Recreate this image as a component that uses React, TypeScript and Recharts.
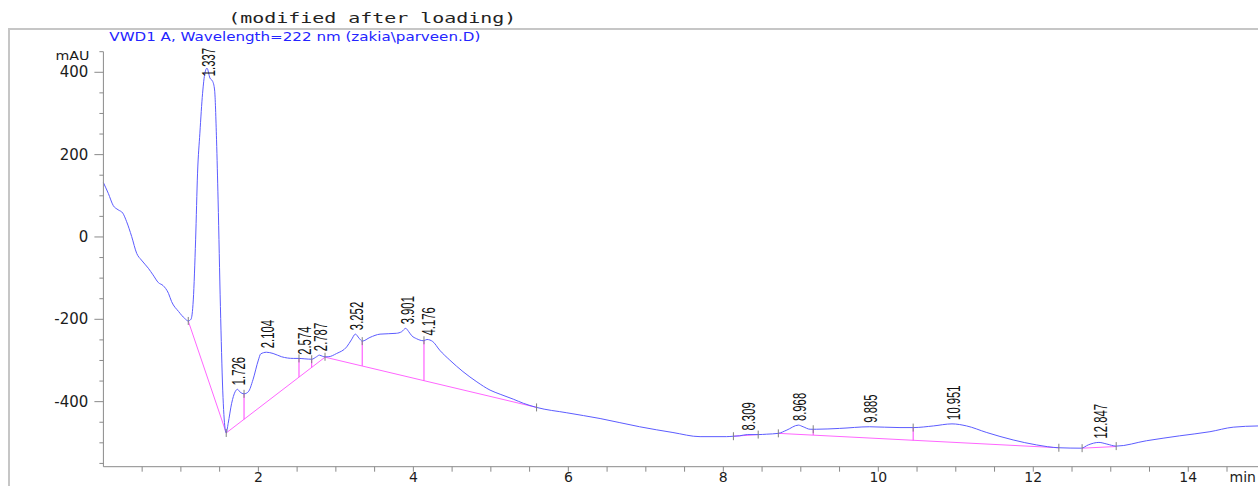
import React from 'react';
import { ComposedChart, Line, Scatter, XAxis, YAxis, ReferenceLine } from 'recharts';

// chromatogram trace: retention time (min) and signal (mAU)
const traceTime = [
  0, 0.063, 0.128, 0.19, 0.25, 0.3, 0.365, 0.43, 0.49, 0.58, 0.64, 0.71, 0.77, 0.84, 0.88, 0.97, 1.05,
  1.095, 1.13, 1.16, 1.19, 1.215, 1.245, 1.28, 1.31, 1.337, 1.375, 1.41, 1.435, 1.46, 1.48, 1.51, 1.54,
  1.57, 1.585, 1.61, 1.655, 1.7, 1.73, 1.76, 1.815, 1.87, 1.93, 2.0, 2.03, 2.104, 2.19, 2.3, 2.45, 2.524,
  2.6, 2.688, 2.75, 2.787, 2.83, 2.86, 2.9, 3.01, 3.14, 3.2, 3.252, 3.3, 3.34, 3.44, 3.57, 3.78, 3.85,
  3.901, 3.94, 3.98, 4.04, 4.13, 4.176, 4.25, 4.34, 4.47, 4.64, 4.82, 4.99, 5.12, 5.29, 5.42, 5.59, 5.98,
  6.41, 6.92, 7.35, 7.7, 8.04, 8.13, 8.21, 8.309, 8.45, 8.56, 8.71, 8.82, 8.968, 9.03, 9.12, 9.2, 9.5,
  9.885, 10.28, 10.45, 10.71, 10.951, 11.14, 11.4, 11.74, 12.04, 12.33, 12.62, 12.71, 12.847, 12.95,
  13.07, 13.46, 13.89, 14.28, 14.58, 14.9,
];
const traceSignal = [
  132, 106, 76, 66, 58, 37, 1, -40, -56, -76, -92, -111, -118, -137, -157, -181, -198,
  -204, -200, -153, -7, 155, 252, 349, 398, 410, 386, 378, 357, 236, 90, -169, -372,
  -465, -476, -453, -404, -376, -370, -376, -381, -376, -347, -299, -284, -280, -283, -291, -295, -295,
  -296, -297, -291, -287, -290, -291, -291, -283, -267, -250, -236, -246, -253, -244, -236, -234, -230,
  -222, -230, -240, -247, -252, -249, -254, -275, -299, -327, -352, -372, -382, -394, -404, -414, -427,
  -441, -461, -475, -485, -485, -484, -483, -480, -480, -479, -477, -469, -457, -461, -467, -467, -465,
  -461, -463, -463, -459, -454, -459, -475, -493, -505, -512, -513, -505, -499, -503,
  -508, -495, -483, -473, -462, -459,
];

// labelled peaks
const peakTimes = [1.337, 1.726, 2.104, 2.574, 2.787, 3.252, 3.901, 4.176, 8.309, 8.968, 9.885, 10.951, 12.847];
const peakHeights = [410, -370, -280, -296, -287, -236, -222, -249, -480, -457, -461, -454, -499];

// integration events (small grey ticks on the trace)
const eventTimes = [1.095, 1.585, 1.815, 2.524, 2.688, 2.86, 3.34, 4.137, 5.59, 8.13, 8.45, 8.71, 9.16, 10.45, 12.33, 12.63, 13.07];
const eventLevels = [-204, -476, -381, -295, -297, -291, -253, -251, -414, -484, -480, -477, -467, -463, -512, -513, -508];

// integration baselines
const baseStartTime = [1.095, 1.585, 2.86, 8.13, 8.71, 12.63];
const baseStartLevel = [-204, -476, -292, -484, -477, -513];
const baseEndTime = [1.585, 2.86, 5.59, 8.45, 12.33, 13.07];
const baseEndLevel = [-476, -292, -414, -480, -512, -509];

// drop lines between merged peaks
const dropTimes = [1.815, 2.524, 2.688, 3.34, 4.137, 9.16, 10.45];
const dropTop = [-381, -295, -297, -253, -251, -467, -463];
const dropBottom = [-443, -340, -317, -313, -349, -481, -494];

const xTicks = [0.5, 1, 1.5, 2, 2.5, 3, 3.5, 4, 4.5, 5, 5.5, 6, 6.5, 7, 7.5, 8, 8.5, 9, 9.5, 10, 10.5, 11, 11.5, 12, 12.5, 13, 13.5, 14, 14.5];
const yTicks = [-550, -500, -450, -400, -350, -300, -250, -200, -150, -100, -50, 0, 50, 100, 150, 200, 250, 300, 350, 400, 450];
const xLabelled = [2, 4, 6, 8, 10, 12, 14];
const yLabelled = [-400, -200, 0, 200, 400];

const W = 1258;
const H = 486;
const PLOT_TOP = 51.7;
const AXIS_GREY = '#8a8a8a';
const TEXT = '#1c1c1c';
const SANS = '"DejaVu Sans", Verdana, sans-serif';

const trace = traceTime.map((t, i) => ({ t, v: traceSignal[i] }));
const peaks = peakTimes.map((t, i) => ({ t, v: peakHeights[i], label: t.toFixed(3) }));
const events = eventTimes.map((t, i) => ({ t, v: eventLevels[i] }));

const renderXTick = (props: any) => {
  const { x, y, payload } = props;
  const v = payload.value;
  return (
    <g>
      <line x1={x} x2={x} y1={y} y2={y + 5} stroke={AXIS_GREY} />
      {xLabelled.includes(v) && (
        <text x={x} y={y + 15.6} textAnchor="middle" fontSize={14} fontFamily={SANS} fill={TEXT}>
          {v}
        </text>
      )}
    </g>
  );
};

const renderYTick = (props: any) => {
  const { x, y, payload } = props;
  const major = yLabelled.includes(payload.value);
  return (
    <g>
      <line x1={x - (major ? 9 : 4)} x2={x} y1={y} y2={y} stroke={AXIS_GREY} />
      {major && (
        <text x={x - 15} y={y} textAnchor="end" dominantBaseline="central" fontSize={15} fontFamily={SANS} fill={TEXT}>
          {payload.value}
        </text>
      )}
    </g>
  );
};

const renderUnit = (props: any) => {
  const vb = props.viewBox;
  return (
    <text x={vb.x + vb.width - 14} y={vb.y + 4} textAnchor="end" dominantBaseline="central"
      fontSize={11.5} fontFamily={SANS} fill={TEXT} textLength={34} lengthAdjust="spacingAndGlyphs">
      mAU
    </text>
  );
};

const renderMin = (props: any) => {
  const vb = props.viewBox;
  return (
    <text x={vb.x + vb.width - 2} y={vb.y + 15.6} textAnchor="end" fontSize={14} fontFamily={SANS} fill={TEXT}>
      min
    </text>
  );
};

const PeakLabel = (props: any) => {
  const { cx, cy, payload } = props;
  const text: string = payload.label;
  const len = (text.length - 1) * 6.2 + 3.5;
  const bottom = Math.max(cy - 4, PLOT_TOP - 3.7 + len);
  const x = cx + 1.5;
  return (
    <text x={x} y={bottom} transform={`rotate(-90 ${x} ${bottom})`} dominantBaseline="central"
      fontSize={19} fontFamily='"Liberation Sans", Arial, sans-serif' fill="#111"
      textLength={len} lengthAdjust="spacingAndGlyphs">
      {text}
    </text>
  );
};

const EventMark = (props: any) => {
  const { cx, cy } = props;
  return <line x1={cx} x2={cx} y1={cy - 4} y2={cy + 4} stroke="#808080" />;
};

export default function App() {
  return (
    <div style={{ position: 'absolute', left: 0, top: 0, width: W, height: H, background: '#fff', overflow: 'hidden' }}>
      <svg width={W} height={H} style={{ position: 'absolute', left: 0, top: 0 }}>
        <path d={`M 9 ${H + 2} V 29 H ${W + 2}`} fill="none" stroke="#c6c6c6" strokeWidth={2} />
        <text x={228.3} y={22.7} fontSize={13.5} fontFamily='"DejaVu Sans Mono", "Liberation Mono", monospace'
          fill="#222" textLength={288} lengthAdjust="spacingAndGlyphs">
          (modified after loading)
        </text>
        <text x={109.3} y={40.7} fontSize={12.5} fontFamily={SANS} fill="#2424ff"
          textLength={371} lengthAdjust="spacingAndGlyphs">
          VWD1 A, Wavelength=222 nm (zakia\parveen.D)
        </text>
      </svg>
      <div style={{ position: 'absolute', left: 0, top: 0 }}>
        <ComposedChart width={W} height={H} margin={{ top: PLOT_TOP, right: 0, bottom: 0, left: 0 }}>
          <XAxis dataKey="t" type="number" domain={[0, 14.9]} ticks={xTicks} interval={0}
            height={19.3} tickSize={0} tickMargin={0} tickLine={false} axisLine={{ stroke: AXIS_GREY }}
            tick={renderXTick} label={renderMin} />
          <YAxis dataKey="v" type="number" domain={[-558, 450]} ticks={yTicks} interval={0}
            width={103.4} tickSize={0} tickMargin={0} tickLine={false} axisLine={{ stroke: AXIS_GREY }}
            tick={renderYTick} label={renderUnit} />
          {baseStartTime.map((t, i) => (
            <ReferenceLine key={`b${i}`} segment={[{ x: t, y: baseStartLevel[i] }, { x: baseEndTime[i], y: baseEndLevel[i] }]}
              stroke="#ff66ff" strokeWidth={1} />
          ))}
          {dropTimes.map((t, i) => (
            <ReferenceLine key={`d${i}`} segment={[{ x: t, y: dropTop[i] }, { x: t, y: dropBottom[i] }]}
              stroke="#ff40ff" strokeWidth={1} />
          ))}
          <Line data={trace} dataKey="v" type="monotone" dot={false} stroke="#5c5cff" strokeWidth={1}
            isAnimationActive={false} />
          <Scatter data={events} dataKey="v" shape={EventMark} isAnimationActive={false} />
          <Scatter data={peaks} dataKey="v" shape={PeakLabel} isAnimationActive={false} />
        </ComposedChart>
      </div>
    </div>
  );
}
